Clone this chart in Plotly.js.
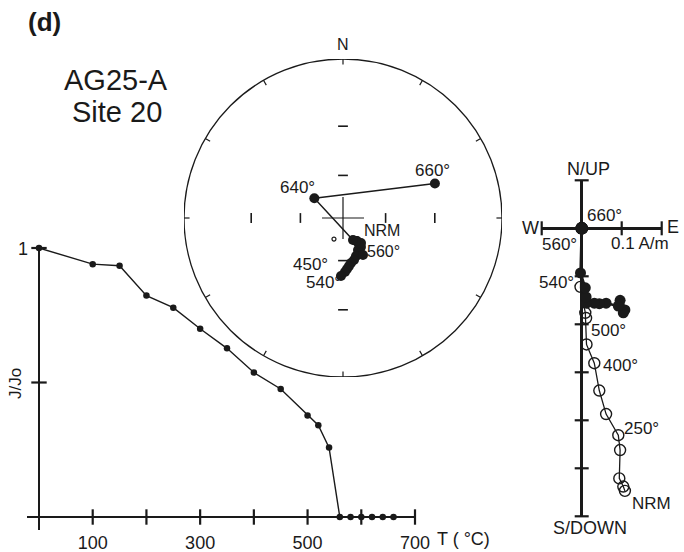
<!DOCTYPE html>
<html>
<head>
<meta charset="utf-8">
<script src="https://cdn.plot.ly/plotly-3.0.1.min.js"></script>
<style>html,body{margin:0;padding:0;background:#fff;}#chart{width:684px;height:552px;}</style>
</head>
<body>
<div id="chart"></div>
<script>
// ---------- J/Jo decay curve ----------
const tempSteps = [0,100,150,200,250,300,350,400,450,500,520,540,560,580,600,620,640,660];
const jOverJo   = [1,0.94,0.934,0.823,0.778,0.70,0.627,0.537,0.476,0.377,0.341,0.258,0,0,0,0,0,0];
const jTickX = [100,200,300,400,500,600,700];
const jTickLabelVals = [100,300,500,700];
const jTickLabelText = ['100','300','500','700'];
const jTickY = [0.5,1];

// ---------- Stereonet (declination / inclination) ----------
const stepNames = ['NRM','100','150','200','250','300','350','400','450','500','520','540','560','580','600','620','640','660'];
const stereoDec = [148.7,148.4,148.2,154.9,154.1,161.1,165.3,169.9,172.9,175.5,177.9,182.0,151.6,144.2,150.5,155.6,304.6,69.4];
const stereoInc = [70.8,68.3,65.8,64.9,62.5,61.6,59.5,57.9,56.1,54.3,52.5,49.9,60.4,68.1,71.1,72.7,65.3,26.6];
const meanDec = [203.2];
const meanInc = [73.6];
const rimTickDec = [0,30,60,90,120,150,180,210,240,270,300,330];
const incTicks = [30,60];

// ---------- Zijderveld (A/m) ----------
const zEast  = [0.108,0.104,0.094,0.096,0.0915,0.061,0.044,0.0315,0.012,0.011,0.009,-0.003,0,0,0,0,0,0];
const zNorth = [-0.170,-0.176,-0.160,-0.150,-0.162,-0.156,-0.157,-0.156,-0.156,-0.143,-0.124,-0.093,0,0,0,0,0,0];
const zUp    = [-0.547,-0.538,-0.521,-0.462,-0.431,-0.387,-0.338,-0.281,-0.242,-0.187,-0.176,-0.122,0,0,0,0,0,0];
const zTickX = [-0.1,0.1,0.2];
const zTickY = [0.1,-0.1,-0.2,-0.3,-0.4,-0.5,-0.6];

const INK = '#1a1a1a';
const FONT = 'Liberation Sans, Arial, sans-serif';
const W = 684, H = 552;
const px = v => v / W, py = v => 1 - v / H;

// stereographic (Wulff) projection
function proj(d, i) {
  const r = Math.tan((90 - i) / 2 * Math.PI / 180);
  const a = d * Math.PI / 180;
  return [r * Math.sin(a), r * Math.cos(a)];
}
const sp = stereoDec.map((d, k) => proj(d, stereoInc[k]));
const mp = meanDec.map((d, k) => proj(d, meanInc[k]));

// rim ticks
const rimX = [], rimY = [];
rimTickDec.forEach(d => {
  const a = d * Math.PI / 180;
  const outer = (d % 180 === 0) ? 1.03 : 1.0;
  rimX.push(0.965 * Math.sin(a), outer * Math.sin(a), null);
  rimY.push(0.965 * Math.cos(a), outer * Math.cos(a), null);
});
const ewX = [], ewY = [], nsX = [], nsY = [];
incTicks.forEach(i => {
  [90, 270].forEach(d => { const p = proj(d, i); ewX.push(p[0]); ewY.push(p[1]); });
  [0, 180].forEach(d => { const p = proj(d, i); nsX.push(p[0]); nsY.push(p[1]); });
});

const traces = [
  // J/Jo
  {x: tempSteps, y: jOverJo, xaxis: 'x', yaxis: 'y', mode: 'lines+markers',
   line: {color: INK, width: 1.4}, marker: {color: INK, size: 6.5}, cliponaxis: false, hoverinfo: 'skip'},
  {x: jTickX, y: jTickX.map(() => 0), xaxis: 'x', yaxis: 'y', mode: 'markers',
   marker: {symbol: 'line-ns-open', size: 11, color: INK, line: {color: INK, width: 2.2}}, cliponaxis: false, hoverinfo: 'skip'},
  {x: jTickY.map(() => 0), y: jTickY, xaxis: 'x', yaxis: 'y', mode: 'markers',
   marker: {symbol: 'line-ew-open', size: 11, color: INK, line: {color: INK, width: 2.2}}, cliponaxis: false, hoverinfo: 'skip'},
  // Stereonet
  {x: rimX, y: rimY, xaxis: 'x2', yaxis: 'y2', mode: 'lines', line: {color: INK, width: 1.2}, cliponaxis: false, hoverinfo: 'skip'},
  {x: ewX, y: ewY, xaxis: 'x2', yaxis: 'y2', mode: 'markers',
   marker: {symbol: 'line-ns-open', size: 7, color: INK, line: {color: INK, width: 1.6}}, hoverinfo: 'skip'},
  {x: nsX, y: nsY, xaxis: 'x2', yaxis: 'y2', mode: 'markers',
   marker: {symbol: 'line-ew-open', size: 7, color: INK, line: {color: INK, width: 1.6}}, hoverinfo: 'skip'},
  {x: [0], y: [0], xaxis: 'x2', yaxis: 'y2', mode: 'markers',
   marker: {symbol: 'cross-thin-open', size: 30, color: INK, line: {color: INK, width: 1.2}}, hoverinfo: 'skip'},
  {x: sp.map(p => p[0]), y: sp.map(p => p[1]), xaxis: 'x2', yaxis: 'y2', mode: 'lines+markers',
   line: {color: INK, width: 1.4}, marker: {color: INK, size: 10}, cliponaxis: false, hoverinfo: 'skip'},
  {x: mp.map(p => p[0]), y: mp.map(p => p[1]), xaxis: 'x2', yaxis: 'y2', mode: 'markers',
   marker: {symbol: 'circle-open', color: INK, size: 4, line: {color: INK, width: 1.2}}, hoverinfo: 'skip'},
  // Zijderveld
  {x: zTickX, y: zTickX.map(() => 0), xaxis: 'x3', yaxis: 'y3', mode: 'markers',
   marker: {symbol: 'line-ns-open', size: 10, color: INK, line: {color: INK, width: 2.2}}, cliponaxis: false, hoverinfo: 'skip'},
  {x: zTickY.map(() => 0), y: zTickY, xaxis: 'x3', yaxis: 'y3', mode: 'markers',
   marker: {symbol: 'line-ew-open', size: 10, color: INK, line: {color: INK, width: 2.2}}, cliponaxis: false, hoverinfo: 'skip'},
  {x: zEast, y: zUp, xaxis: 'x3', yaxis: 'y3', mode: 'lines+markers',
   line: {color: INK, width: 1.3}, marker: {symbol: 'circle-open', size: 11, color: INK, line: {color: INK, width: 1.4}},
   cliponaxis: false, hoverinfo: 'skip'},
  {x: zEast, y: zNorth, xaxis: 'x3', yaxis: 'y3', mode: 'lines+markers',
   line: {color: INK, width: 2.5}, marker: {color: INK, size: 11}, cliponaxis: false, hoverinfo: 'skip'}
];

const hiddenAxis = {visible: false, fixedrange: true};
const zAxisBase = {showgrid: false, showline: false, ticks: '', showticklabels: false,
  zeroline: true, zerolinecolor: INK, zerolinewidth: 2.8, fixedrange: true};

function txt(text, x, y, size, opts) {
  return Object.assign({text: text, x: px(x), y: py(y), xref: 'paper', yref: 'paper',
    showarrow: false, xanchor: 'center', yanchor: 'middle',
    font: {family: FONT, size: size, color: INK}}, opts || {});
}

const annotations = [
  txt('<b>(d)</b>', 44, 22, 26),
  txt('AG25-A', 116, 80, 29),
  txt('Site 20', 117, 112, 29),
  txt('1', 30, 249, 18, {xanchor: 'right'}),
  txt('J/Jo', 15, 384, 17, {textangle: -90}),
  txt('T ( °C)', 435, 539, 18, {xanchor: 'left'}),
  // stereonet
  txt('N', 343, 44, 16),
  txt('660°', 432, 170, 17),
  txt('640°', 297, 187, 17),
  txt('NRM', 382, 230, 16),
  txt('560°', 383, 251, 16),
  txt('450°', 310, 264, 17),
  txt('540°', 323, 283, 17),
  // zijderveld
  txt('N/UP', 588, 169, 18),
  txt('W', 530, 228, 18),
  txt('E', 673, 227, 18),
  txt('660°', 604, 216, 17),
  txt('560°', 559, 245, 17),
  txt('0.1 A/m', 640, 244, 17),
  txt('540°', 556, 283, 17),
  txt('500°', 608, 330, 17),
  txt('400°', 620, 365, 17),
  txt('250°', 641, 428, 17),
  txt('NRM', 651, 503, 17),
  txt('S/DOWN', 590, 528, 18)
];

const layout = {
  width: W, height: H,
  margin: {l: 0, r: 0, t: 0, b: 0},
  paper_bgcolor: '#ffffff', plot_bgcolor: 'rgba(0,0,0,0)',
  showlegend: false,
  font: {family: FONT, color: INK},
  xaxis: {domain: [px(27), px(415)], range: [-22.34, 700], anchor: 'y',
    showgrid: false, showline: false, ticks: '', zeroline: true, zerolinecolor: INK, zerolinewidth: 2.8,
    tickvals: jTickLabelVals, ticktext: jTickLabelText, tickfont: {family: FONT, size: 18, color: INK},
    fixedrange: true},
  yaxis: {domain: [py(530), py(248)], range: [-0.0483, 1], anchor: 'x',
    showgrid: false, showline: false, ticks: '', showticklabels: false,
    zeroline: true, zerolinecolor: INK, zerolinewidth: 2.8, fixedrange: true},
  xaxis2: Object.assign({domain: [px(184), px(502)], range: [-1, 1], anchor: 'y2'}, hiddenAxis),
  yaxis2: Object.assign({domain: [py(377), py(59)], range: [-1, 1], anchor: 'x2'}, hiddenAxis),
  xaxis3: Object.assign({domain: [px(541.7), px(661.7)], range: [-0.1, 0.2], anchor: 'y3'}, zAxisBase),
  yaxis3: Object.assign({domain: [py(516.3), py(180.3)], range: [-0.6, 0.1], anchor: 'x3'}, zAxisBase),
  shapes: [
    {type: 'circle', xref: 'x2', yref: 'y2', x0: -1, x1: 1, y0: -1, y1: 1, line: {color: INK, width: 1.3}}
  ],
  annotations: annotations
};

Plotly.newPlot('chart', traces, layout, {staticPlot: true, displayModeBar: false});
</script>
</body>
</html>
